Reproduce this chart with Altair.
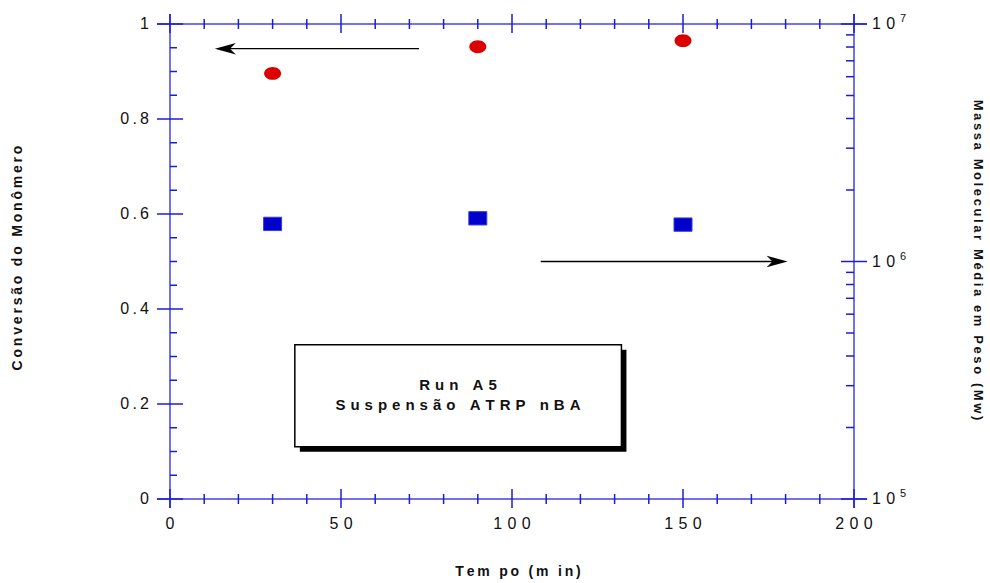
import altair as alt
import pandas as pd

# ---- data -------------------------------------------------------------
tempo = [30, 90, 150]                    # min
conversao = [0.896, 0.952, 0.965]        # monomer conversion
massa_mw = [1.44e6, 1.52e6, 1.43e6]      # weight-average molar mass

x_major = [0, 50, 100, 150, 200]
x_minor = [10, 20, 30, 40, 60, 70, 80, 90, 110, 120, 130, 140, 160, 170, 180, 190]
yl_major = [0, 0.2, 0.4, 0.6, 0.8, 1.0]
yl_minor = [0.05, 0.1, 0.15, 0.25, 0.3, 0.35, 0.45, 0.5, 0.55,
            0.65, 0.7, 0.75, 0.85, 0.9, 0.95]
yr_major = [1e5, 1e6, 1e7]
yr_minor = [2e5, 3e5, 4e5, 5e5, 6e5, 7e5, 8e5, 9e5,
            2e6, 3e6, 4e6, 5e6, 6e6, 7e6, 8e6, 9e6]
yr_exp = ["5", "6", "7"]

x_title = "Tem po (m in)"
yl_title = "Conversão do Monômero"
yr_title = "Massa Molecular Média em Peso (Mw)"
box_lines = ["Run A5", "Suspensão ATRP nBA"]
box_line_y = [0.240, 0.198]

# ---- style ------------------------------------------------------------
W, H = 684, 475
FONT = "Liberation Sans"
AXIS_LINE = "#7272ee"
TICK = "#1c1cd8"
INK = "#111111"
ELLIPSE = "M -1 0 A 1 0.76 0 1 1 1 0 A 1 0.76 0 1 1 -1 0 Z"
RECT = "M -1 -0.74 L 1 -0.74 L 1 0.74 L -1 0.74 Z"
HEAD_LEFT = "M 0 0 L 2 -0.55 L 1.45 0 L 2 0.55 Z"
HEAD_RIGHT = "M 0 0 L -2 -0.55 L -1.45 0 L -2 0.55 Z"
LBL_GAP = "\u2004"     # letter spacing of the x tick labels
YLBL_GAP = "\u2009"    # letter spacing of the left tick labels
TITLE_GAP = "\u2009"   # letter spacing of the axis titles
BOX_GAP = "\u2004"     # letter spacing inside the annotation box


def spaced(text, gap):
    return gap.join(text)


def num(v, gap=LBL_GAP):
    return spaced(f"{v:g}", gap)


xs = alt.Scale(domain=[0, 200], nice=False, zero=False)
yls = alt.Scale(domain=[0, 1], nice=False)
yrs = alt.Scale(type="log", domain=[1e5, 1e7], nice=False)

pts = pd.DataFrame({"tempo": tempo, "conv": conversao, "mw": massa_mw})
one = pd.DataFrame({"k": [0]})

# ---- frame around the plot area (lines run past the corners) -----------
frame_h = alt.Chart(one).mark_rule(color=AXIS_LINE, strokeWidth=2)
frame_v = alt.Chart(one).mark_rule(color=AXIS_LINE, strokeWidth=2)
frame = alt.layer(
    frame_h.encode(x=alt.value(-13), x2=alt.value(W + 13), y=alt.value(H)),
    frame_h.encode(x=alt.value(-13), x2=alt.value(W + 13), y=alt.value(0)),
    frame_v.encode(y=alt.value(-10), y2=alt.value(H + 9), x=alt.value(0)),
    frame_v.encode(y=alt.value(-10), y2=alt.value(H + 9), x=alt.value(W)),
)

# ---- x ticks (bottom and top, crossing the line) -----------------------
xmaj = pd.DataFrame({"v": x_major, "t": [num(v) for v in x_major]})
xmin = pd.DataFrame({"v": x_minor})
xt = lambda d: alt.Chart(d).mark_rule(color=TICK, strokeWidth=1.5)
xenc = alt.X("v:Q", scale=xs, axis=None)
x_ticks = alt.layer(
    xt(xmin).encode(x=xenc, y=alt.value(H - 5), y2=alt.value(H + 5)),
    xt(xmin).encode(x=xenc, y=alt.value(-5), y2=alt.value(5)),
    xt(xmaj).encode(x=xenc, y=alt.value(H - 10), y2=alt.value(H + 9)),
    xt(xmaj).encode(x=xenc, y=alt.value(-10), y2=alt.value(9)),
)
x_labels = alt.Chart(xmaj).mark_text(
    font=FONT, fontSize=16, color=INK, align="center", baseline="middle"
).encode(x=xenc, y=alt.value(H + 25), text="t:N")

# ---- left y ticks and labels ---------------------------------------------
ylenc = alt.Y("v:Q", scale=yls, axis=None)
ylmaj = pd.DataFrame({"v": yl_major, "t": [num(v, YLBL_GAP) for v in yl_major]})
yl_ticks = alt.layer(
    alt.Chart(pd.DataFrame({"v": yl_minor})).mark_rule(color=TICK, strokeWidth=1.5)
    .encode(y=ylenc, x=alt.value(0), x2=alt.value(7)),
    alt.Chart(ylmaj).mark_rule(color=TICK, strokeWidth=1.5)
    .encode(y=ylenc, x=alt.value(-13), x2=alt.value(13)),
)
yl_labels = alt.Chart(ylmaj).mark_text(
    font=FONT, fontSize=16, color=INK, align="right", baseline="middle"
).encode(y=ylenc, x=alt.value(-21), text="t:N")

# ---- axis titles ---------------------------------------------------------
title_style = dict(font=FONT, fontSize=14, fontWeight="bold", color=INK,
                   align="center", baseline="middle")
titles = alt.layer(
    alt.Chart(one).mark_text(text=spaced(x_title, TITLE_GAP), **title_style)
    .encode(x=alt.value(348), y=alt.value(H + 73)),
    alt.Chart(one).mark_text(text=spaced(yl_title, TITLE_GAP), angle=270,
                             **title_style)
    .encode(x=alt.value(-152), y=alt.value(234)),
    alt.Chart(one).mark_text(text=spaced(yr_title, TITLE_GAP), angle=90,
                             **{**title_style, "fontSize": 13})
    .encode(x=alt.value(W + 124), y=alt.value(236)),
)

# ---- conversion markers ---------------------------------------------------
circles = alt.Chart(pts).mark_point(
    shape=ELLIPSE, size=289, filled=True, color="#dd0000", opacity=1
).encode(
    x=alt.X("tempo:Q", scale=xs, axis=None),
    y=alt.Y("conv:Q", scale=yls, axis=None),
)

# ---- arrow pointing to the conversion axis -------------------------------
arrow_l = pd.DataFrame({"x0": [72.8], "x1": [15.0], "tip": [13.1], "y": [0.948]})
arrow_left = alt.layer(
    alt.Chart(arrow_l).mark_rule(color="black", strokeWidth=1.3).encode(
        x=alt.X("x0:Q", scale=xs, axis=None), x2="x1:Q",
        y=alt.Y("y:Q", scale=yls, axis=None)),
    alt.Chart(arrow_l).mark_point(shape=HEAD_LEFT, size=441, filled=True,
                                  color="black", opacity=1).encode(
        x=alt.X("tip:Q", scale=xs, axis=None),
        y=alt.Y("y:Q", scale=yls, axis=None)),
)

# ---- annotation box with drop shadow -------------------------------------
box = pd.DataFrame({"x0": [36.5], "x1": [132.0], "y0": [0.325], "y1": [0.110]})
benc = dict(x=alt.X("x0:Q", scale=xs, axis=None), x2="x1:Q",
            y=alt.Y("y0:Q", scale=yls, axis=None), y2="y1:Q")
box_shadow = alt.Chart(box).mark_rect(
    color="black", xOffset=5, x2Offset=5, yOffset=5, y2Offset=5).encode(**benc)
box_face = alt.Chart(box).mark_rect(
    fill="white", stroke="black", strokeWidth=1.5).encode(**benc)
box_text = alt.Chart(pd.DataFrame({
    "t": [spaced(s, BOX_GAP) for s in box_lines],
    "y": box_line_y,
    "x": [84.2, 84.2],
})).mark_text(font=FONT, fontSize=15, fontWeight="bold", color=INK,
              align="center", baseline="middle").encode(
    x=alt.X("x:Q", scale=xs, axis=None),
    y=alt.Y("y:Q", scale=yls, axis=None),
    text="t:N",
)

left = alt.layer(frame, x_ticks, yl_ticks, x_labels, yl_labels, titles,
                 arrow_left, box_shadow, box_face, box_text, circles)

# ---- right (log) axis group ------------------------------------------------
yrenc = alt.Y("v:Q", scale=yrs, axis=None)
yr_ticks = alt.layer(
    alt.Chart(pd.DataFrame({"v": yr_minor})).mark_rule(color=TICK, strokeWidth=1.5)
    .encode(y=yrenc, x=alt.value(W - 8), x2=alt.value(W)),
    alt.Chart(pd.DataFrame({"v": yr_major})).mark_rule(color=TICK, strokeWidth=1.5)
    .encode(y=yrenc, x=alt.value(W - 13), x2=alt.value(W + 13)),
)
yr_lab = pd.DataFrame({"v": yr_major, "base": [spaced("10", LBL_GAP)] * 3,
                       "exp": yr_exp})
yr_labels = alt.layer(
    alt.Chart(yr_lab).mark_text(font=FONT, fontSize=16, color=INK, align="left",
                                baseline="middle", dx=18).encode(
        x=alt.value(W), y=yrenc, text="base:N"),
    alt.Chart(yr_lab).mark_text(font=FONT, fontSize=11, color=INK, align="left",
                                baseline="alphabetic", dx=46, dy=-2).encode(
        x=alt.value(W), y=yrenc, text="exp:N"),
)

squares = alt.Chart(pts).mark_point(
    shape=RECT, size=324, filled=True, color="#0000cc", opacity=1,
    stroke="#3a3ae0", strokeWidth=1
).encode(
    x=alt.X("tempo:Q", scale=xs, axis=None),
    y=alt.Y("mw:Q", scale=yrs, axis=None),
)

arrow_r = pd.DataFrame({"x0": [108.4], "x1": [178.5], "tip": [180.6], "y": [1e6]})
arrow_right = alt.layer(
    alt.Chart(arrow_r).mark_rule(color="black", strokeWidth=1.3).encode(
        x=alt.X("x0:Q", scale=xs, axis=None), x2="x1:Q",
        y=alt.Y("y:Q", scale=yrs, axis=None)),
    alt.Chart(arrow_r).mark_point(shape=HEAD_RIGHT, size=441, filled=True,
                                  color="black", opacity=1).encode(
        x=alt.X("tip:Q", scale=xs, axis=None),
        y=alt.Y("y:Q", scale=yrs, axis=None)),
)

right = alt.layer(yr_ticks, yr_labels, arrow_right, squares)

chart = alt.layer(left, right).resolve_scale(y="independent").properties(
    width=W, height=H,
    padding={"left": 170, "top": 24, "right": 136, "bottom": 84},
    autosize=alt.AutoSizeParams(type="none"),
).configure_view(strokeWidth=0).configure(font=FONT)

chart.save("out.html", embed_options={"renderer": "svg", "actions": False})
